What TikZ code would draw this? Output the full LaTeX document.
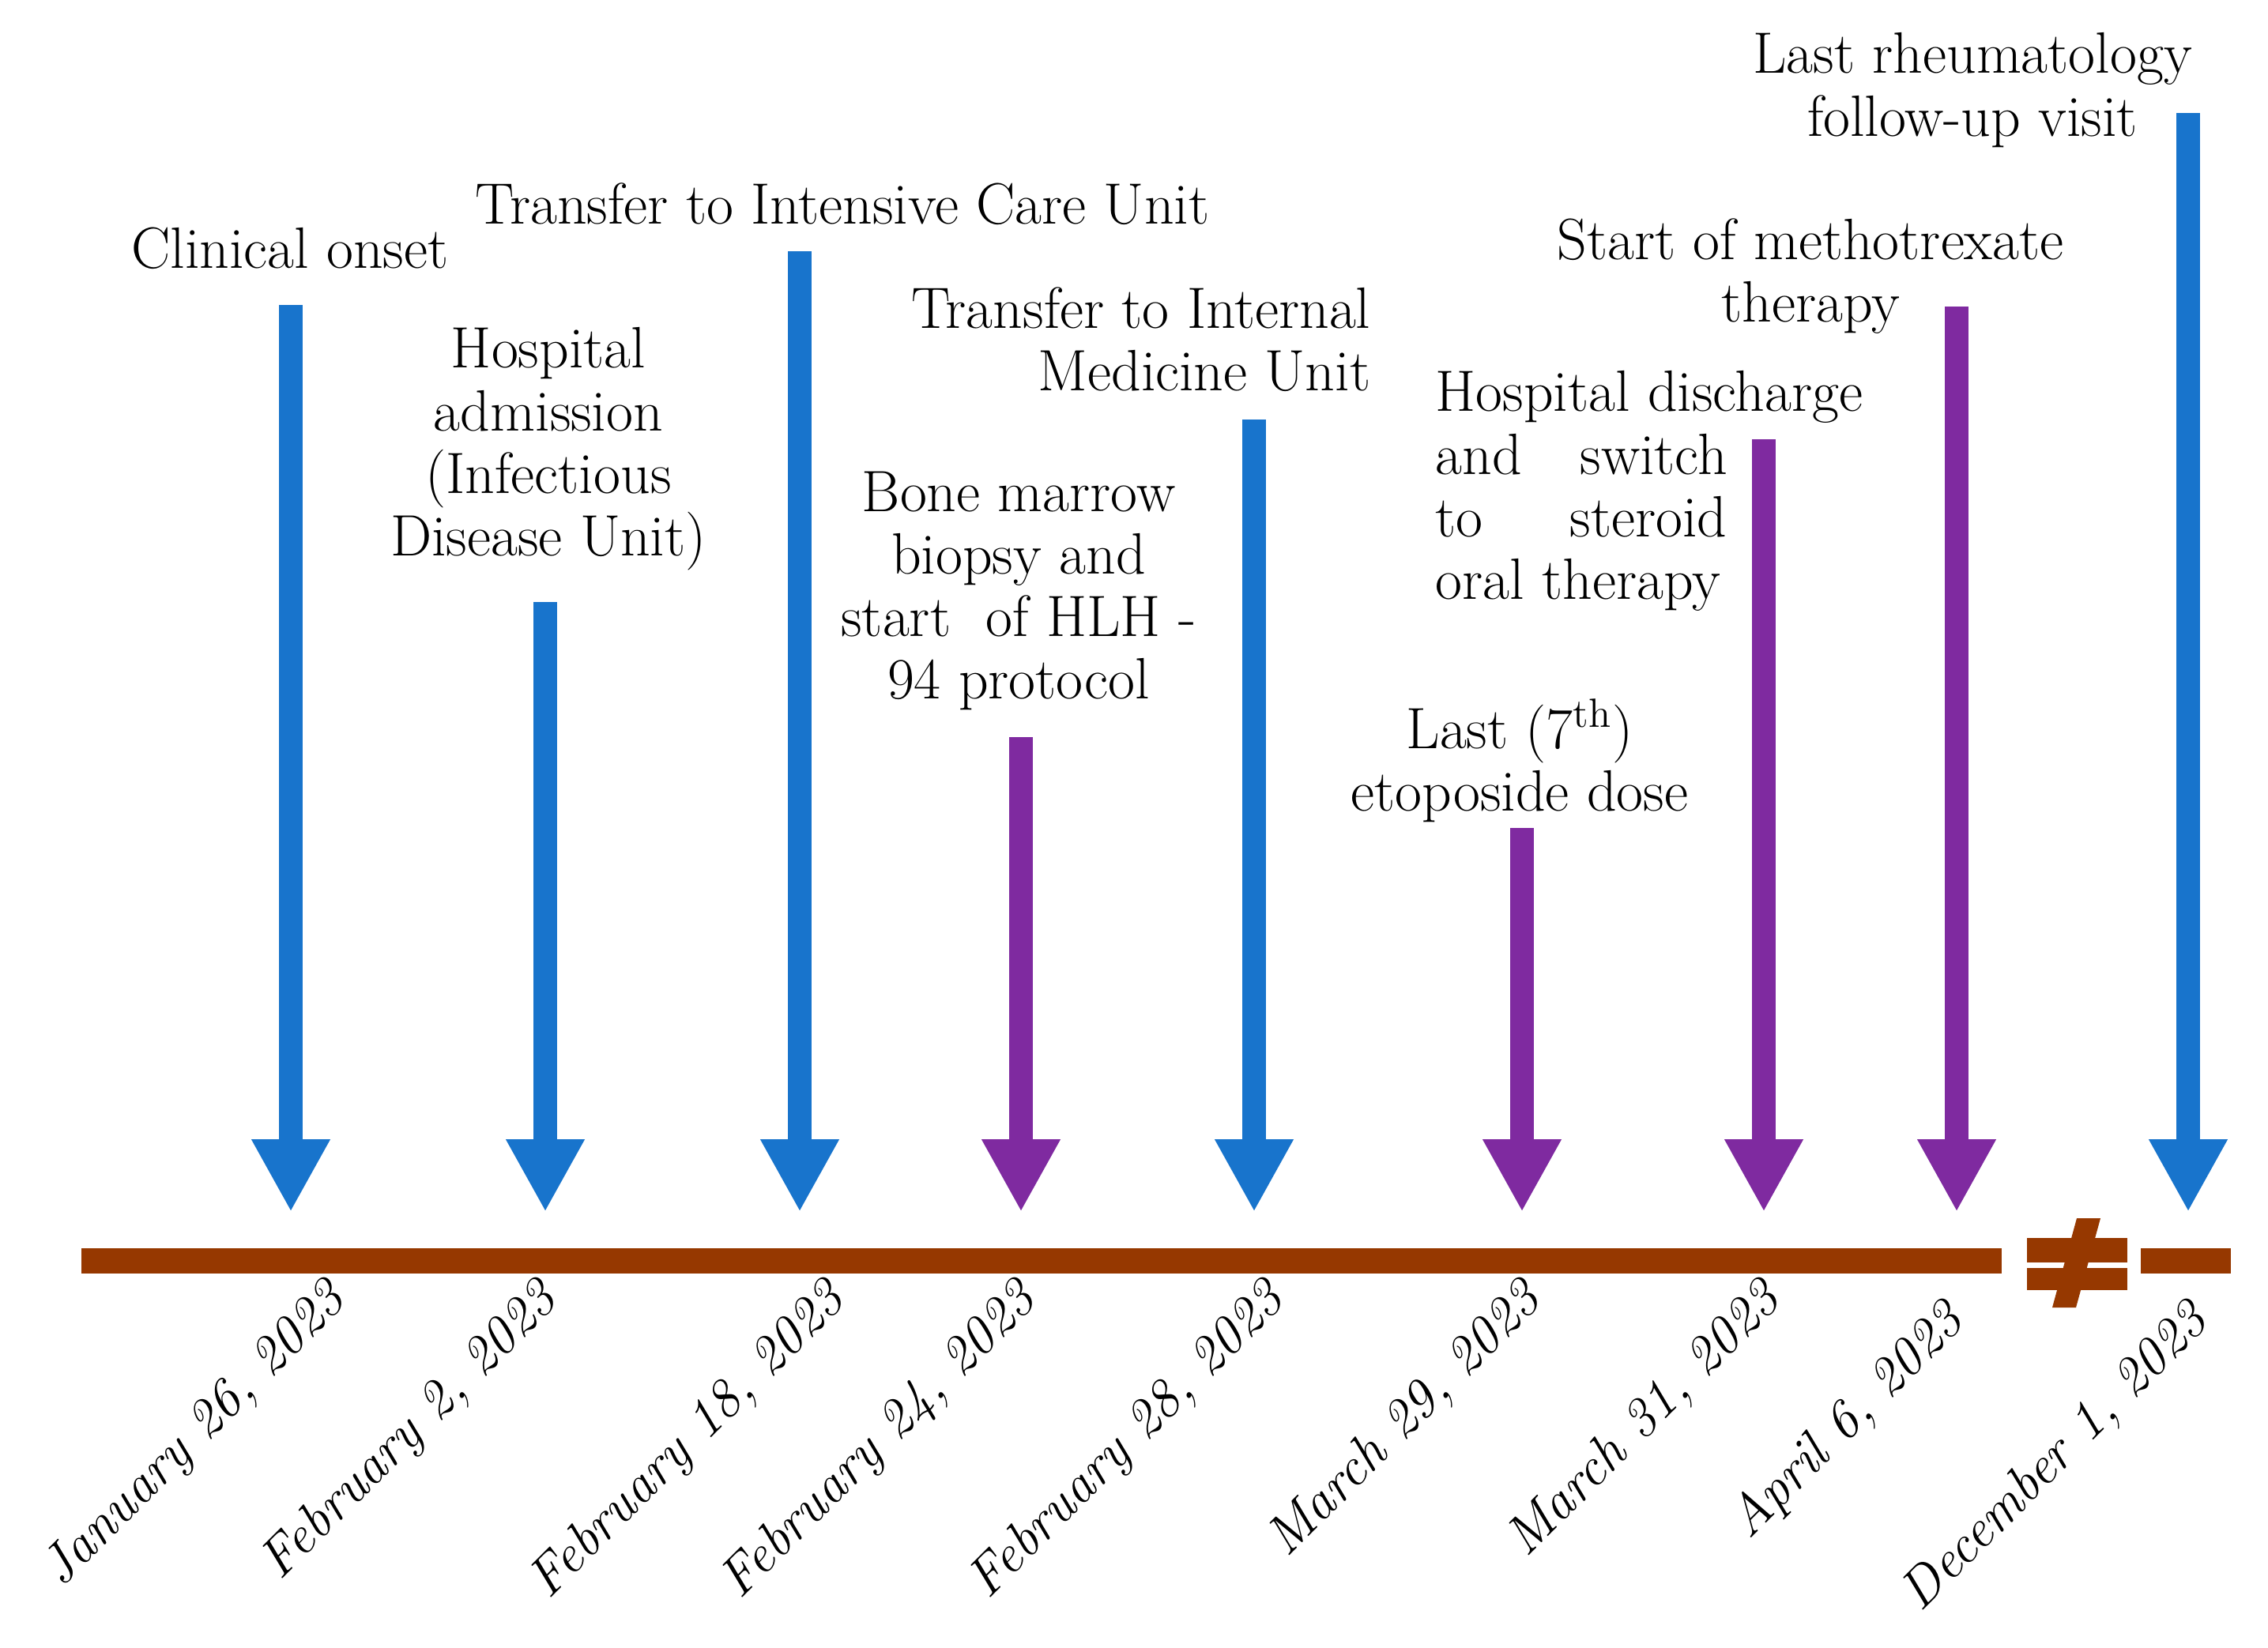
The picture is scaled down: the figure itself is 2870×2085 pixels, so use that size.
\documentclass[tikz,border=0pt]{standalone}
\usepackage{tikz}
\usepackage{xcolor}
\usetikzlibrary{arrows.meta, positioning}

\definecolor{evblue}{RGB}{24,116,204}
\definecolor{evpurple}{RGB}{127,42,160}
\definecolor{tlbrown}{RGB}{150,56,0}

\begin{document}
\begin{tikzpicture}[x=0.1mm, y=-0.1mm,
    evarrow/.style={line width=3mm, -{Triangle[width=9.3mm, length=9.2mm]}},
    evtext/.style={inner sep=0pt, font=\fontsize{21}{22.5}\selectfont},
    datetext/.style={inner sep=0pt, rotate=45, anchor=base east, font=\fontsize{19.5}{22.5}\selectfont\itshape}]
\useasboundingbox (0,0) rectangle (2870,2085);

% timeline with break
\coordinate (tl0) at (103,1596);
\coordinate (tl1) at (2533,1596);
\coordinate (tl2) at (2709,1596);
\coordinate (tl3) at (2823,1596);
\draw[tlbrown, line width=3.2mm] (tl0) -- (tl1);
\draw[tlbrown, line width=3.2mm] (tl2) -- (tl3);
\fill[tlbrown] (2565,1567) rectangle (2692,1598);
\fill[tlbrown] (2565,1605) rectangle (2692,1633);
\fill[tlbrown] (2628,1542) -- (2658,1542) -- (2627,1655) -- (2597,1655) -- cycle;

% event arrows
\coordinate (base) at (0,1534);
\coordinate (a1) at (368,386);
\coordinate (a2) at (690,762);
\coordinate (a3) at (1012,318);
\coordinate (a4) at (1292,933);
\coordinate (a5) at (1587,531);
\coordinate (a6) at (1926,1048);
\coordinate (a7) at (2232,556);
\coordinate (a8) at (2476,388);
\coordinate (a9) at (2769,143);

\foreach \a in {a1, a2, a3, a5, a9}
    \draw[evarrow, evblue] (\a) -- (\a |- base);

\foreach \a in {a4, a6, a7, a8}
    \draw[evarrow, evpurple] (\a) -- (\a |- base);

% events
\node[evtext, anchor=base] (onset) at (367,339) {Clinical onset};
\node[evtext, anchor=north, align=center] (admission) at (694,414) {Hospital\\admission\\(Infectious\\Disease Unit)};
\node[evtext, anchor=base] (icu) at (1066,283) {Transfer to Intensive Care Unit};
\node[evtext, anchor=north, align=center] (biopsy) at (1289,596) {Bone marrow\\biopsy and\\start\ \ of HLH -\\94 protocol};
\node[evtext, anchor=north east, align=right] (internal) at (1735,363) {Transfer to Internal\\Medicine Unit};
\node[evtext, anchor=north, align=center] (etoposide) at (1923,884) {Last (7\textsuperscript{th})\\etoposide dose};
\node[evtext, anchor=north west, align=left] (discharge) at (1816,469) {Hospital discharge\\\makebox[36.9mm][s]{and\hfill switch}\\\makebox[36.9mm][s]{to\hfill steroid}\\oral therapy};
\node[evtext, anchor=north, align=center] (mtx) at (2291,276) {Start of methotrexate\\therapy};
\node[evtext, anchor=north, align=center] (rheum) at (2496,41) {Last rheumatology\\follow-up visit};

% dates
\node[datetext] (d1) at (440,1648) {January 26, 2023};
\node[datetext] (d2) at (708,1648) {February 2, 2023};
\node[datetext] (d3) at (1072,1648) {February 18, 2023};
\node[datetext] (d4) at (1314,1648) {February 24, 2023};
\node[datetext] (d5) at (1628,1648) {February 28, 2023};
\node[datetext] (d6) at (1953,1648) {March 29, 2023};
\node[datetext] (d7) at (2256,1648) {March 31, 2023};
\node[datetext] (d8) at (2488,1675) {April 6, 2023};
\node[datetext] (d9) at (2797,1675) {December 1, 2023};
\end{tikzpicture}
\end{document}
